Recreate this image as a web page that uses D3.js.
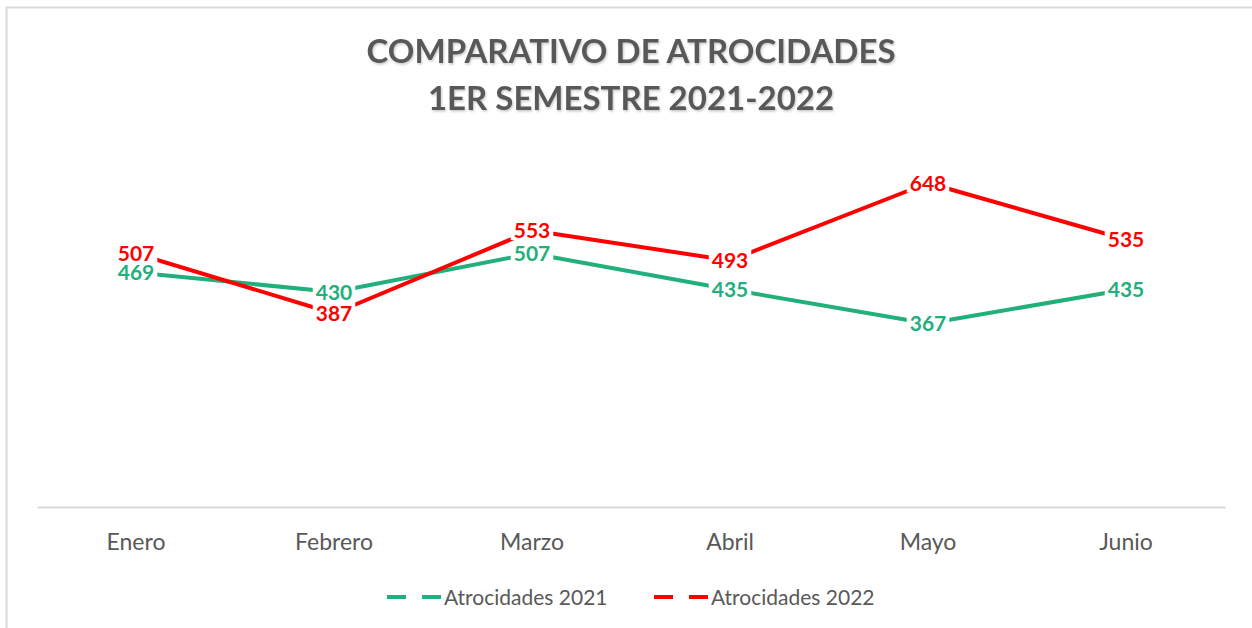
<!DOCTYPE html>
<html>
<head>
<meta charset="utf-8">
<script src="https://cdn.jsdelivr.net/npm/d3@7"></script>
<style>
  body { margin: 0; background: #fff; }
  svg { display: block; font-family: Lato, 'Open Sans', sans-serif; }
</style>
</head>
<body>
<div id="chart"></div>
<script>
// chart data
const months = ['Enero', 'Febrero', 'Marzo', 'Abril', 'Mayo', 'Junio']
const atrocidades2021 = [469, 430, 507, 435, 367, 435]
const atrocidades2022 = [507, 387, 553, 493, 648, 535]
const seriesNames = ['Atrocidades 2021', 'Atrocidades 2022']
const seriesColors = ['#21B07B', '#FF0000']
const titleLines = ['COMPARATIVO DE ATROCIDADES', '1ER SEMESTRE 2021-2022']

const width = 1252
const height = 628

const svg = d3.select('#chart').append('svg')
    .attr('width', width)
    .attr('height', height)

// frame (only top and left edges show in the crop)
svg.append('path')
    .attr('d', `M6.5,${height} V7.5 H${width}`)
    .attr('fill', 'none')
    .attr('stroke', '#D9D9D9')
    .attr('stroke-width', 2)

// soft shadow for the title, like the office text effect
let defs = svg.append('defs')
let shadow = defs.append('filter').attr('id', 'title-shadow')
    .attr('x', '-5%').attr('y', '-20%').attr('width', '110%').attr('height', '150%')
shadow.append('feDropShadow')
    .attr('dx', 1).attr('dy', 1.5)
    .attr('stdDeviation', 1)
    .attr('flood-color', '#000').attr('flood-opacity', 0.22)

svg.append('g')
    .attr('filter', 'url(#title-shadow)')
  .selectAll('text')
  .data(titleLines)
  .join('text')
    .attr('x', 631)
    .attr('y', (d, i) => 63 + i * 47)
    .attr('text-anchor', 'middle')
    .attr('font-size', 33)
    .attr('font-weight', 'bold')
    .attr('fill', '#595959')
    .text(d => d)

const x = d3.scaleBand()
    .domain(months)
    .range([37, 1225])

const y = d3.scaleLinear()
    .domain([0, 700])
    .range([507, 157])

// category axis
let xAxis = svg.append('g')
    .attr('transform', 'translate(0,507)')
    .call(d3.axisBottom(x).tickSize(0).tickPadding(0))
xAxis.select('.domain')
    .attr('stroke', '#D9D9D9')
    .attr('stroke-width', 2)
xAxis.selectAll('.tick text')
    .attr('dy', 0)
    .attr('y', 43)
    .attr('font-family', 'Lato, sans-serif')
    .attr('font-size', 23)
    .attr('fill', '#595959')

const series = [atrocidades2021, atrocidades2022].map((values, i) => ({
  name: seriesNames[i],
  color: seriesColors[i],
  points: values.map((v, j) => ({ month: months[j], value: v }))
}))

const line = d3.line()
    .x(d => x(d.month) + x.bandwidth() / 2)
    .y(d => y(d.value))

svg.append('g')
  .selectAll('path')
  .data(series)
  .join('path')
    .attr('d', d => line(d.points))
    .attr('fill', 'none')
    .attr('stroke', d => d.color)
    .attr('stroke-width', 4)
    .attr('stroke-linejoin', 'round')

// data labels sit on the points with a white box behind them
let labels = svg.append('g')
  .selectAll('g')
  .data(series.flatMap(s => s.points.map(p => ({ ...p, color: s.color }))))
  .join('g')
    .attr('transform', d => `translate(${x(d.month) + x.bandwidth() / 2},${y(d.value)})`)

labels.append('text')
    .attr('text-anchor', 'middle')
    .attr('dy', '0.36em')
    .attr('font-size', 21)
    .attr('font-weight', 'bold')
    .attr('fill', d => d.color)
    .text(d => d.value)

labels.each(function () {
  let g = d3.select(this)
  let box = g.select('text').node().getBBox()
  g.insert('rect', 'text')
      .attr('x', box.x - 3)
      .attr('y', box.y + 2)
      .attr('width', box.width + 6)
      .attr('height', box.height - 4)
      .attr('fill', '#fff')
})

// legend
let legend = svg.append('g')
    .attr('transform', 'translate(0,597)')
let legendItems = legend.selectAll('g')
  .data(series)
  .join('g')
    .attr('transform', (d, i) => `translate(${387 + i * 267},0)`)
legendItems.append('path')
    .attr('d', 'M0,0 H54')
    .attr('stroke', d => d.color)
    .attr('stroke-width', 4)
    .attr('stroke-dasharray', '19,16')
legendItems.append('text')
    .attr('x', 57)
    .attr('dy', '0.36em')
    .attr('font-size', 21)
    .attr('fill', '#595959')
    .text(d => d.name)
</script>
</body>
</html>
